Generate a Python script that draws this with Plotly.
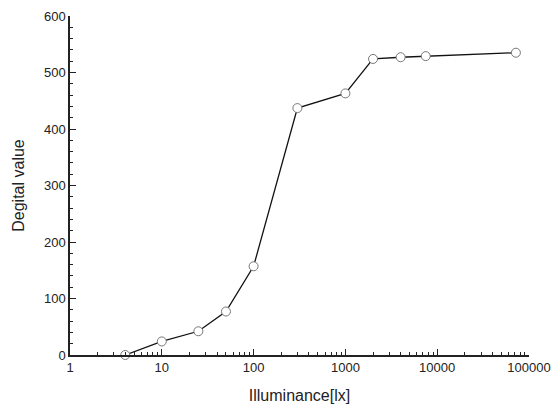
import plotly.graph_objects as go

illuminance = [4, 10, 25, 50, 100, 300, 1000, 2000, 4000, 7500, 72000]
digital_value = [0, 24, 42, 77, 157, 437, 463, 524, 527, 529, 535]

x_tickvals = [1, 10, 100, 1000, 10000, 100000]
x_ticktext = ["1", "10", "100", "1000", "10000", "100000"]
y_tickvals = [0, 100, 200, 300, 400, 500, 600]

fig = go.Figure()
fig.add_trace(go.Scatter(
    x=illuminance, y=digital_value, mode="lines+markers",
    line=dict(color="#111111", width=1.3),
    marker=dict(symbol="circle", size=9, color="white",
                line=dict(color="#777777", width=1)),
    cliponaxis=False, showlegend=False,
))

font = "Liberation Sans, Arial, sans-serif"
# page body has an 8px default margin, so the figure is sized and offset for it
fig.update_layout(
    width=552, height=400,
    margin=dict(l=62, r=31, t=8, b=53),
    paper_bgcolor="white", plot_bgcolor="white",
    font=dict(family=font, size=13, color="#222222"),
)
fig.update_xaxes(
    type="log", range=[0, 5], automargin=False,
    tickvals=x_tickvals, ticktext=x_ticktext,
    ticks="inside", ticklen=6, tickwidth=1, tickcolor="#222222",
    showline=True, linecolor="#222222", linewidth=1.5,
    showgrid=False, zeroline=False,
    minor=dict(ticks="inside", ticklen=3, tickwidth=1, tickcolor="#222222",
               dtick="D1", showgrid=False),
    title=dict(text="Illuminance[lx]", font=dict(size=16)),
)
fig.update_yaxes(
    range=[0, 600], automargin=False,
    tickvals=y_tickvals,
    ticks="inside", ticklen=6, tickwidth=1, tickcolor="#222222",
    showline=True, linecolor="#222222", linewidth=1.5,
    showgrid=False, zeroline=False,
    minor=dict(ticks="inside", ticklen=3, tickwidth=1, tickcolor="#222222",
               dtick=20, showgrid=False),
    title=dict(text="Degital value", font=dict(size=16)),
)
fig.write_html("out.html")
